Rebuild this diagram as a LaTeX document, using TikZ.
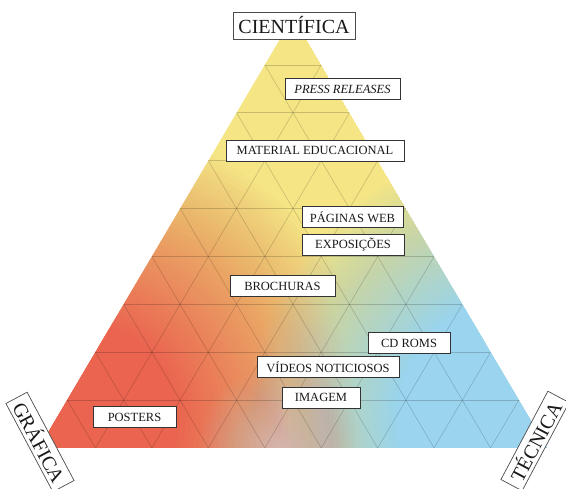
\documentclass[tikz,border=0pt]{standalone}
\usepackage{fontspec}
\setmainfont{Liberation Serif}
\usetikzlibrary{calc}

\definecolor{topyellow}{HTML}{F5E585}
\definecolor{leftred}{HTML}{EA6450}
\definecolor{rightblue}{HTML}{9AD4EE}
\definecolor{midmauve}{HTML}{D4B3AA}

\tikzset{
  lbl/.style={draw=black!80, fill=white, line width=0.7pt, text=black!90,
    font=\fontsize{12.5}{14}\selectfont, inner sep=0pt, minimum height=21pt},
  corner/.style={draw=black!70, fill=white, line width=0.7pt, text=black!90,
    font=\fontsize{20}{22}\selectfont, inner sep=0pt, minimum height=27pt},
  gridline/.style={black, opacity=0.18, line width=0.6pt}
}

% soft colour spot: solid inside radius #3, fading linearly to nothing at #4
% (stack of translucent discs, disc k has opacity 1/(N-k+1))
\newcommand{\softspot}[4]{%
  \foreach \k in {1,...,40} {
    \pgfmathsetmacro{\spotr}{#4-(\k-1)*(#4-#3)/39}
    \pgfmathsetmacro{\spota}{1/(41-\k)}
    \fill[#1, opacity=\spota] #2 circle (\spotr);
  }%
}

\begin{document}
\begin{tikzpicture}[x=1pt,y=-1pt]
\useasboundingbox (0,0) rectangle (566,489);

\coordinate (A) at (293,17);
\coordinate (L) at (39,448);
\coordinate (R) at (547,448);

\begin{scope}
  \clip (A) -- (L) -- (R) -- cycle;
  \fill[topyellow] (A) -- (L) -- (R) -- cycle;
  \softspot{leftred}{(80,420)}{95}{295}
  \softspot{rightblue}{(520,420)}{124}{272}
  \softspot{midmauve}{(282,450)}{8}{85}
  % triangular grid, nine divisions per side
  \foreach \k in {1,...,8} {
    \draw[gridline] ($(L)!\k/9!(R)$) -- ($(A)!\k/9!(R)$);
    \draw[gridline] ($(L)!\k/9!(R)$) -- ($(L)!\k/9!(A)$);
    \draw[gridline] ($(A)!\k/9!(L)$) -- ($(A)!\k/9!(R)$);
  }
\end{scope}

\node[corner, minimum width=122pt] (cient) at (294,25.5) {CIENTÍFICA};
\node[corner, minimum width=100pt, minimum height=24pt, rotate=-62] (graf) at (40,442) {GRÁFICA};
\node[corner, minimum width=100pt, minimum height=24pt, rotate=62] (tec) at (535,441) {TÉCNICA};

\node[lbl, minimum width=115pt, font=\fontsize{12.5}{14}\selectfont\itshape] (press) at (342.5,89) {PRESS RELEASES};
\node[lbl, minimum width=178pt] (mat) at (315,150.5) {MATERIAL EDUCACIONAL};
\node[lbl, minimum width=101pt] (pag) at (352.5,217) {PÁGINAS WEB};
\node[lbl, minimum width=102pt] (expo) at (353,245) {EXPOSIÇÕES};
\node[lbl, minimum width=105pt] (broch) at (282.5,286) {BROCHURAS};
\node[lbl, minimum width=82pt] (cd) at (409,343) {CD ROMS};
\node[lbl, minimum width=142pt] (vid) at (328,367) {VÍDEOS NOTICIOSOS};
\node[lbl, minimum width=78pt] (img) at (321,397.5) {IMAGEM};
\node[lbl, minimum width=83pt] (post) at (134.5,417) {POSTERS};
\end{tikzpicture}
\end{document}
